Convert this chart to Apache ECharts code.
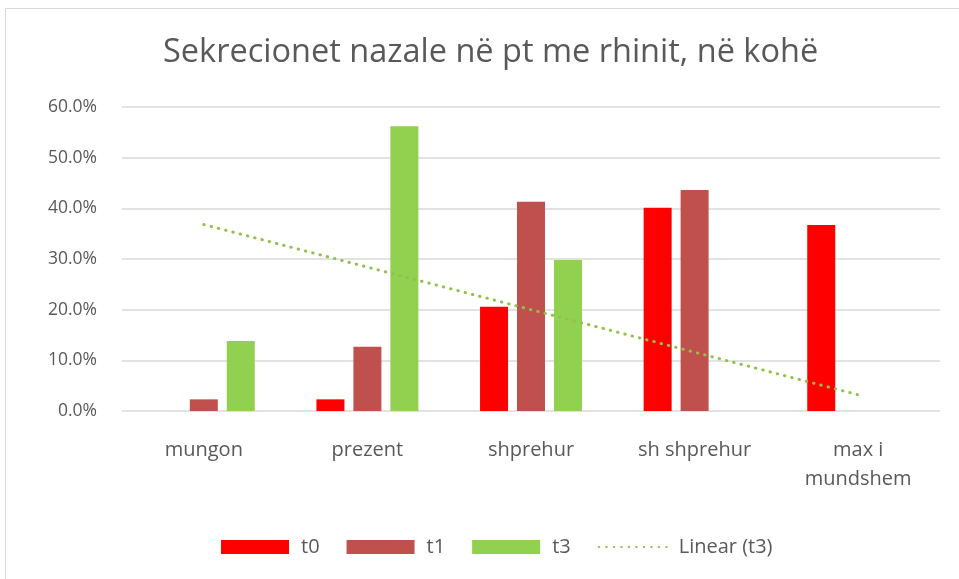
<!DOCTYPE html>
<html>
<head>
<meta charset="utf-8">
<script src="https://cdn.jsdelivr.net/npm/echarts@6/dist/echarts.min.js"></script>
<style>
  html, body { margin: 0; padding: 0; background: #fff; }
  #main { width: 959px; height: 579px; }
</style>
</head>
<body>
<div id="main"></div>
<script>
// data
var categories = ['mungon', 'prezent', 'shprehur', 'sh shprehur', 'max i\nmundshem'];
var t0 = [0, 2.3, 20.6, 40.1, 36.7];
var t1 = [2.3, 12.7, 41.3, 43.6, 0];
var t3 = [13.8, 56.2, 29.8, 0, 0];
var trendT3 = [36.8, 28.4, 20.0, 11.6, 3.2];
var yTicks = [0, 10, 20, 30, 40, 50, 60];

var FONT = 'Open Sans';
var TXT = '#595959';

var chart = echarts.init(document.getElementById('main'));

function bar(name, data, color) {
	return {
		name: name,
		type: 'bar',
		data: data,
		barWidth: 28,
		barGap: '32%',
		itemStyle: { color: color }
	};
}

chart.setOption({
	animation: false,
	graphic: [{
		type: 'rect',
		shape: { x: 5.5, y: 8.5, width: 1000, height: 600 },
		style: { fill: 'none', stroke: '#d9d9d9', lineWidth: 1 }
	}],
	title: {
		text: 'Sekrecionet nazale në pt me rhinit, në kohë',
		left: 158,
		top: 31,
		textStyle: { fontFamily: FONT, fontSize: 32.5, fontWeight: 'normal', color: TXT }
	},
	legend: {
		top: 532,
		left: 216,
		itemWidth: 68,
		itemHeight: 14,
		itemGap: 27,
		textStyle: { fontFamily: FONT, fontSize: 20, color: TXT, padding: [0, 0, 0, 7] },
		data: [
			{ name: 't0', icon: 'rect' },
			{ name: 't1', icon: 'rect' },
			{ name: 't3', icon: 'rect' },
			{ name: 'Linear (t3)', itemStyle: { opacity: 0 } }
		]
	},
	grid: { left: 122, right: 19, top: 107, bottom: 168 },
	xAxis: {
		type: 'category',
		data: categories,
		axisLine: { show: false },
		axisTick: { show: false },
		axisLabel: { fontFamily: FONT, fontSize: 20, color: TXT, margin: 25, lineHeight: 29 }
	},
	yAxis: {
		type: 'value',
		min: yTicks[0],
		max: yTicks[yTicks.length - 1],
		interval: 10,
		axisLine: { show: false },
		axisTick: { show: false },
		splitLine: { lineStyle: { color: '#d9d9d9', width: 1.5 } },
		axisLabel: {
			fontFamily: FONT, fontSize: 17.5, color: TXT, margin: 25,
			formatter: function (v) { return v.toFixed(1) + '%'; }
		}
	},
	series: [
		bar('t0', t0, '#ff0000'),
		bar('t1', t1, '#c0504d'),
		bar('t3', t3, '#92d050'),
		{
			name: 'Linear (t3)',
			type: 'line',
			data: trendT3,
			symbol: 'none',
			z: 5,
			lineStyle: { color: '#92c04c', width: 3, type: [0.5, 7], cap: 'round' },
			itemStyle: { color: '#92c04c' }
		}
	]
});
</script>
</body>
</html>
